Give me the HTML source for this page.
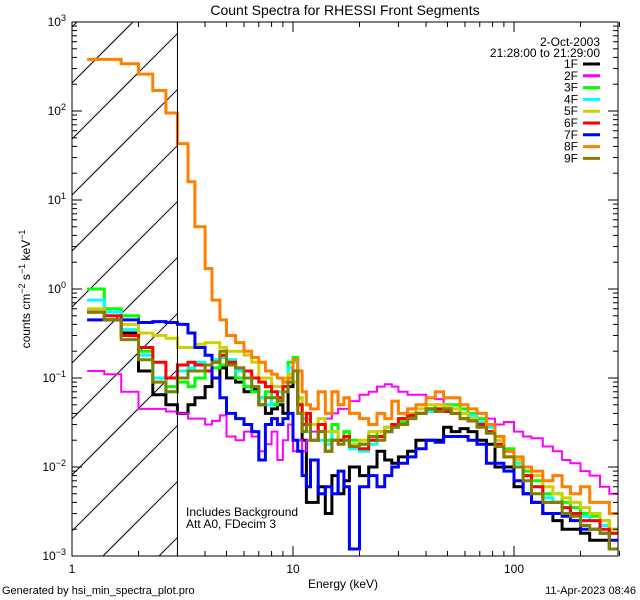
<!DOCTYPE html>
<html><head><meta charset="utf-8"><style>
html,body{margin:0;padding:0;background:#fff;width:640px;height:600px;overflow:hidden;}
svg{display:block;font-family:"Liberation Sans",sans-serif;}
</style></head><body>
<svg id="c" width="640" height="600" viewBox="0 0 640 600">
<defs><clipPath id="pc"><rect x="72" y="22" width="546" height="534"/></clipPath></defs>
<text x="345" y="15" font-size="14" text-anchor="middle">Count Spectra for RHESSI Front Segments</text>
<g id="hatch"></g>
<g id="series" clip-path="url(#pc)"></g>
<g id="axes"></g>
<text x="30" y="289" font-size="12" text-anchor="middle" transform="rotate(-90 30 289)">counts cm<tspan dy="-5" font-size="9">−2</tspan><tspan dy="5"> s</tspan><tspan dy="-5" font-size="9">−1</tspan><tspan dy="5"> keV</tspan><tspan dy="-5" font-size="9">−1</tspan></text>
<text x="343" y="588" font-size="12" text-anchor="middle">Energy (keV)</text>
<text x="2" y="594" font-size="11">Generated by hsi_min_spectra_plot.pro</text>
<text x="636" y="594" font-size="11" text-anchor="end">11-Apr-2023 08:46</text>
<text x="186" y="516" font-size="12">Includes Background</text>
<text x="186" y="528" font-size="12">Att A0, FDecim 3</text>
<text x="600" y="46" font-size="12" text-anchor="end">2-Oct-2003</text>
<text x="600" y="57" font-size="12" text-anchor="end">21:28:00 to 21:29:00</text>
<g id="legend"></g>
</svg>
<script>
const edges=[1.17,1.4,1.67,2.0,2.32,2.66,3.0,3.35,3.6,4.0,4.3,4.67,5,5.5,6,6.5,7,7.5,8,8.5,9,9.5,10,10.5,11,11.5,12,13,14,15,16,17,18,20,22,24,26,28,30,33,36,40,44,48,52,57,62,68,75,82,90,100,110,120,135,150,165,180,200,220,245,270,300];
const seriesNames=["1F","2F","3F","4F","5F","6F","7F","8F","9F"];
const seriesColors=["#000000","#ff00ff","#00ff00","#00ffff","#d0d000","#ff0000","#0000ff","#ff8000","#808000"];
const s1F=[0.55,0.45,0.32,0.12,0.065,0.05,0.04,0.05,0.06,0.08,0.1,0.13,0.1,0.09,0.07,0.075,0.05,0.04,0.045,0.05,0.04,0.08,0.12,0.05,0.02,0.004,0.004,0.006,0.003,0.008,0.005,0.007,0.01,0.008,0.01,0.015,0.012,0.011,0.013,0.015,0.02,0.02,0.02,0.028,0.025,0.027,0.025,0.02,0.018,0.01,0.01,0.006,0.005,0.004,0.003,0.0025,0.002,0.002,0.0018,0.0015,0.0015,0.0012];
const s2F=[0.12,0.11,0.07,0.045,0.045,0.042,0.04,0.035,0.035,0.03,0.033,0.038,0.022,0.02,0.025,0.022,0.015,0.018,0.025,0.012,0.02,0.03,0.015,0.02,0.015,0.02,0.025,0.03,0.035,0.04,0.045,0.045,0.055,0.065,0.07,0.08,0.085,0.08,0.07,0.065,0.065,0.06,0.058,0.05,0.045,0.045,0.04,0.035,0.035,0.03,0.032,0.025,0.022,0.021,0.017,0.015,0.012,0.011,0.009,0.008,0.006,0.005];
const s3F=[1.0,0.6,0.5,0.2,0.1,0.08,0.09,0.08,0.1,0.12,0.13,0.14,0.16,0.1,0.08,0.07,0.06,0.07,0.05,0.06,0.08,0.15,0.17,0.06,0.04,0.03,0.03,0.025,0.02,0.03,0.02,0.025,0.02,0.018,0.02,0.025,0.028,0.03,0.032,0.036,0.04,0.045,0.05,0.05,0.05,0.045,0.04,0.035,0.03,0.022,0.016,0.012,0.009,0.007,0.005,0.005,0.004,0.0035,0.003,0.0028,0.0025,0.002];
const s4F=[0.75,0.55,0.35,0.18,0.1,0.07,0.12,0.13,0.15,0.14,0.16,0.17,0.16,0.12,0.1,0.08,0.06,0.05,0.06,0.07,0.09,0.13,0.15,0.06,0.035,0.025,0.03,0.02,0.018,0.025,0.02,0.02,0.016,0.015,0.018,0.022,0.025,0.028,0.03,0.035,0.04,0.042,0.045,0.048,0.045,0.04,0.038,0.032,0.028,0.02,0.015,0.011,0.008,0.006,0.0045,0.004,0.0035,0.003,0.0028,0.0025,0.0022,0.0018];
const s5F=[0.6,0.45,0.4,0.32,0.3,0.28,0.22,0.22,0.24,0.25,0.25,0.22,0.2,0.2,0.18,0.15,0.1,0.1,0.08,0.08,0.1,0.11,0.09,0.06,0.04,0.035,0.03,0.035,0.025,0.025,0.02,0.022,0.018,0.02,0.025,0.025,0.028,0.03,0.035,0.04,0.045,0.05,0.05,0.048,0.045,0.04,0.035,0.03,0.025,0.02,0.015,0.012,0.01,0.008,0.006,0.005,0.0045,0.004,0.0035,0.003,0.0025,0.002];
const s6F=[0.55,0.5,0.3,0.22,0.15,0.1,0.14,0.15,0.14,0.12,0.15,0.18,0.15,0.13,0.12,0.1,0.09,0.08,0.07,0.06,0.08,0.1,0.12,0.05,0.03,0.04,0.02,0.03,0.015,0.02,0.02,0.022,0.017,0.016,0.02,0.022,0.025,0.03,0.035,0.038,0.04,0.045,0.045,0.042,0.04,0.035,0.033,0.03,0.025,0.018,0.013,0.01,0.008,0.006,0.004,0.004,0.0035,0.003,0.0025,0.0025,0.002,0.0018];
const s7F=[0.45,0.45,0.45,0.42,0.43,0.42,0.4,0.32,0.22,0.18,0.1,0.06,0.04,0.035,0.03,0.025,0.012,0.03,0.035,0.03,0.035,0.04,0.02,0.015,0.008,0.006,0.012,0.005,0.006,0.005,0.009,0.006,0.0012,0.006,0.008,0.006,0.008,0.01,0.011,0.013,0.016,0.02,0.019,0.022,0.022,0.022,0.02,0.018,0.011,0.011,0.009,0.007,0.005,0.004,0.003,0.003,0.0028,0.0025,0.002,0.002,0.0018,0.0015];
const s8F=[380,380,340,260,170,95,43,16,5,1.7,0.75,0.45,0.3,0.25,0.2,0.17,0.15,0.12,0.11,0.1,0.09,0.1,0.16,0.12,0.07,0.05,0.045,0.07,0.04,0.07,0.05,0.06,0.04,0.035,0.03,0.04,0.035,0.055,0.04,0.045,0.05,0.06,0.07,0.06,0.06,0.05,0.045,0.04,0.03,0.022,0.015,0.013,0.01,0.009,0.007,0.008,0.006,0.005,0.006,0.004,0.004,0.003];
const s9F=[0.55,0.45,0.27,0.16,0.09,0.07,0.1,0.12,0.12,0.14,0.15,0.2,0.14,0.13,0.1,0.08,0.05,0.06,0.06,0.055,0.07,0.09,0.12,0.04,0.025,0.03,0.02,0.025,0.015,0.02,0.018,0.02,0.017,0.018,0.022,0.02,0.025,0.028,0.03,0.035,0.04,0.045,0.042,0.045,0.04,0.035,0.033,0.028,0.024,0.017,0.013,0.01,0.007,0.005,0.004,0.004,0.003,0.0028,0.0022,0.002,0.0018,0.0012];
const seriesValues=[s1F,s2F,s3F,s4F,s5F,s6F,s7F,s8F,s9F];
const seriesWidths=[3,2,3,3,3,3,3,3,3];
const yTickExp=[3,2,1,0,-1,-2,-3];
const xTickLabels=["1","10","100"];
const xTickVals=[1,10,100];

const X0=72,X1=618,Y0=22,Y1=556;
const DEC=221;
function xs(e){return X0+Math.log10(e)*DEC;}
function ys(v){return Y1-(Math.log10(v)+3)*(Y1-Y0)/6;}
const NS="http://www.w3.org/2000/svg";
function mk(tag,attrs,parent){const el=document.createElementNS(NS,tag);for(const k in attrs)el.setAttribute(k,attrs[k]);parent.appendChild(el);return el;}

const hatch=document.getElementById('hatch');
const hx1=xs(3);
for(let k=-2;k<12;k++){
  const b=83+k*56;
  // line y = b - (x - X0); clip to x in [X0,hx1], y in [Y0,Y1]
  let xa=X0, xb=hx1;
  xa=Math.max(xa, X0+(b-Y1));
  xb=Math.min(xb, X0+(b-Y0));
  if(xb<=xa) continue;
  const l=mk('line',{x1:xa,y1:b-(xa-X0),x2:xb,y2:b-(xb-X0),stroke:'#000','stroke-width':1},hatch);
  
  
}
const vl=mk('line',{x1:hx1,y1:Y0,x2:hx1,y2:Y1,stroke:'#000','stroke-width':1},document.getElementById('axes'));



const sg=document.getElementById('series');
seriesValues.forEach((vals,i)=>{
  let d='';
  vals.forEach((v,j)=>{
    const xa=xs(edges[j]),xb=xs(edges[j+1]),y=ys(v);
    d+=(j===0?'M':'L')+xa.toFixed(1)+','+y.toFixed(1)+'L'+xb.toFixed(1)+','+y.toFixed(1);
  });
  const p=mk('path',{d:d,fill:'none',stroke:seriesColors[i],'stroke-width':seriesWidths[i],'stroke-linejoin':'miter'},sg);
  
  
});

const ax=document.getElementById('axes');
const fr=mk('rect',{x:X0,y:Y0,width:X1-X0,height:Y1-Y0,fill:'none',stroke:'#000','stroke-width':1},ax);


for(let dec=0;dec<3;dec++){
  for(let m=1;m<10;m++){
    const e=Math.pow(10,dec)*m;
    if(e>300)break;
    const x=xs(e),len=m===1?10:5;
    mk('line',{x1:x,y1:Y1,x2:x,y2:Y1-len,stroke:'#000'},ax);
    mk('line',{x1:x,y1:Y0,x2:x,y2:Y0+len,stroke:'#000'},ax);
  }
}
xTickVals.forEach((v,i)=>{
  const t=mk('text',{x:xs(v),y:573,'font-size':12,'text-anchor':'middle'},ax);
  t.textContent=xTickLabels[i];
  
  
});
for(let ex=-3;ex<3;ex++){
  for(let m=1;m<10;m++){
    const v=Math.pow(10,ex)*m,y=ys(v),len=m===1?10:5;
    mk('line',{x1:X0,y1:y,x2:X0+len,y2:y,stroke:'#000'},ax);
    mk('line',{x1:X1,y1:y,x2:X1-len,y2:y,stroke:'#000'},ax);
  }
}
yTickExp.forEach(ex=>{
  const y=ys(Math.pow(10,ex));
  const t=mk('text',{x:66,y:y+4,'font-size':12,'text-anchor':'end'},ax);
  t.innerHTML='10<tspan dy="-5" font-size="9">'+(ex<0?'−'+(-ex):ex)+'</tspan>';
  
  
});

const lg=document.getElementById('legend');
seriesNames.forEach((n,i)=>{
  const y=64+i*11.8;
  const t=mk('text',{x:578,y:y+4,'font-size':12,'text-anchor':'end'},lg);
  t.textContent=n;
  
  
  const l=mk('line',{x1:583,y1:y,x2:600,y2:y,stroke:seriesColors[i],'stroke-width':3},lg);
  
  
});
</script>
</body></html>
